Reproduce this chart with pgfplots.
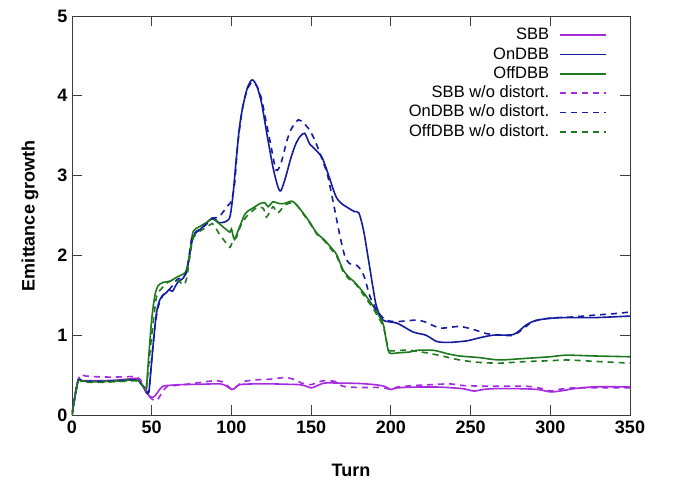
\documentclass[border=0pt]{standalone}
\usepackage{pgfplots}
\pgfplotsset{compat=1.18}
\usepackage{fontspec}
\setmainfont{Liberation Sans}

\definecolor{cSBB}{RGB}{165,42,224}
\definecolor{cOn}{RGB}{22,28,160}
\definecolor{cOff}{RGB}{30,120,30}
\definecolor{frame}{RGB}{60,60,60}

\begin{document}
\begin{tikzpicture}[x=1pt,y=1pt]
\path[use as bounding box] (-72,-67) rectangle (605,415);
\begin{axis}[
  at={(0,0)}, anchor=south west,
  scale only axis, width=558pt, height=399pt,
  xmin=0, xmax=350, ymin=0, ymax=5,
  xtick={0,50,...,350}, ytick={0,1,...,5},
  tick align=inside, major tick length=10pt,
  axis line style={frame, line width=0.9pt},
  every tick/.style={frame, line width=0.9pt},
  /pgf/number format/assume math mode=true,
  ticklabel style={font=\fontsize{18}{18}\selectfont\bfseries},
  xticklabel style={yshift=-2pt},
  yticklabel style={xshift=-1pt},
  xlabel={Turn}, ylabel={Emittance growth},
  every axis x label/.style={at={(axis description cs:0.5,-0.138)}, anchor=center},
  every axis y label/.style={at={(axis description cs:-0.0753,0.5)}, rotate=90, anchor=center},
  label style={font=\fontsize{18}{18}\selectfont\bfseries},
  legend plot pos=right,
  legend image code/.code={\draw[#1, line width=1.6pt] (0pt,0pt) -- (46pt,0pt);},
  legend style={at={(rel axis cs:0.964,0.976)}, anchor=north east,
    draw=none, fill=none, font=\fontsize{16.5}{16.5}\selectfont,
    row sep=4.3pt,
    cells={anchor=east},
    nodes={inner sep=0pt, text height=12pt, text depth=3pt},
    /tikz/every odd column/.style={column sep=10pt}},
  every axis plot/.append style={line width=1.6pt, smooth, tension=0.45},
]
% ---- with distortion ----
\addplot[cSBB] coordinates {
(0,0) (2,0.25) (4,0.45) (6,0.43) (10,0.43) (20,0.43) (30,0.44) (40,0.46) (42,0.44)
(45,0.34) (47,0.27) (50,0.22) (52,0.24) (55,0.32) (57,0.36) (60,0.37) (68,0.38)
(80,0.385) (93,0.39) (97,0.36) (100,0.32) (102,0.33) (105,0.38) (115,0.39) (125,0.39)
(135,0.385) (143,0.38) (147,0.36) (150,0.34) (153,0.36) (158,0.40) (168,0.40) (180,0.395)
(190,0.38) (196,0.36) (200,0.32) (204,0.34) (215,0.35) (230,0.35) (245,0.33) (252,0.30)
(258,0.32) (265,0.33) (280,0.33) (292,0.32) (300,0.29) (306,0.30) (315,0.33) (325,0.35)
(335,0.355) (350,0.35)};
\addlegendentry{SBB}
\addplot[cOn] coordinates {
(0,0) (2,0.25) (4,0.44) (6,0.43) (10,0.42) (20,0.42) (30,0.43) (40,0.44) (42,0.42)
(45,0.35) (48,0.28) (49,0.45) (51,0.9) (53,1.28) (55,1.44) (57,1.5) (59,1.53) (61,1.57)
(63,1.55) (65,1.62) (67,1.68) (70,1.72) (73,1.91) (75,2.15) (77,2.27) (80,2.32) (84,2.40)
(88,2.47) (90,2.45) (92,2.41) (96,2.42) (99,2.48) (101,2.76) (103,3.2) (105,3.6) (107,3.85)
(110,4.1) (113,4.20) (116,4.12) (119,3.9) (122,3.55) (126,3.11) (129,2.87) (131,2.81)
(134,2.98) (137,3.20) (140,3.38) (143,3.49) (146,3.53) (149,3.40) (153,3.32) (157,3.22)
(161,3.0) (164,2.82) (166,2.72) (169,2.65) (172,2.61) (177,2.55) (180,2.53) (183,2.30)
(186,1.94) (189,1.57) (191,1.36) (195,1.19) (204,1.15) (214,1.04) (222,1.0) (229,0.92)
(237,0.91) (248,0.93) (254,0.96) (264,1.00) (277,1.01) (285,1.13) (292,1.19) (306,1.22)
(327,1.22) (350,1.24)};
\addlegendentry{OnDBB}
\addplot[cOff] coordinates {
(0,0) (2,0.25) (4,0.44) (6,0.43) (10,0.42) (20,0.42) (30,0.43) (40,0.44) (42,0.43)
(45,0.35) (46.5,0.31) (48,0.7) (50,1.2) (52,1.5) (54,1.62) (57,1.66) (62,1.68) (65,1.72)
(67,1.74) (70,1.77) (72,1.82) (74,2.05) (76,2.30) (80,2.36) (85,2.42) (88,2.46) (91,2.42)
(94,2.37) (97,2.32) (99,2.29) (100,2.33) (101,2.25) (102,2.2) (104,2.3) (106,2.40) (108,2.5)
(110,2.55) (114,2.60) (118,2.65) (121,2.66) (123,2.61) (126,2.67) (130,2.65) (133,2.65)
(138,2.68) (141,2.63) (145,2.53) (149,2.42) (153.5,2.28) (158,2.20) (162,2.11) (166,2.01)
(170,1.82) (174,1.72) (177,1.67) (183,1.53) (189,1.36) (195,1.15) (197,0.95) (199,0.78)
(205,0.78) (212,0.79) (216,0.81) (227,0.81) (235,0.77) (243,0.74) (255,0.72) (268,0.69)
(285,0.71) (300,0.73) (310,0.75) (327,0.74) (350,0.73)};
\addlegendentry{OffDBB}
% ---- without distortion ----
\addplot[cSBB, dash pattern=on 6pt off 5pt] coordinates {
(0,0) (2,0.27) (5,0.50) (8,0.49) (15,0.48) (25,0.475) (35,0.48) (40,0.48) (43,0.44)
(46,0.33) (49,0.22) (52,0.18) (54,0.20) (57,0.30) (60,0.36) (65,0.37) (74,0.39) (85,0.42)
(91,0.43) (95,0.41) (99,0.34) (101,0.32) (104,0.37) (108,0.42) (115,0.44) (125,0.45)
(134,0.47) (140,0.44) (144,0.40) (150,0.38) (154,0.41) (158,0.43) (165,0.42) (170,0.36)
(180,0.345) (192,0.345) (198,0.33) (200,0.32) (204,0.35) (215,0.37) (225,0.38) (237,0.39)
(245,0.37) (260,0.36) (285,0.36) (295,0.33) (300,0.30) (305,0.32) (315,0.34) (335,0.34)
(350,0.34)};
\addlegendentry{SBB w/o distort.}
\addplot[cOn, dash pattern=on 6pt off 5pt] coordinates {
(0,0) (2,0.25) (4,0.44) (6,0.43) (10,0.42) (20,0.42) (30,0.43) (40,0.44) (42,0.42)
(45,0.35) (48,0.28) (50,0.7) (52,1.1) (54,1.35) (57,1.5) (60,1.55) (63,1.62) (66,1.7)
(69,1.72) (72,1.8) (75,2.2) (78,2.3) (82,2.35) (86,2.42) (89,2.47) (92,2.48) (95,2.55)
(98,2.63) (100,2.68) (102,2.9) (104,3.4) (107,3.85) (110,4.08) (113,4.17) (116,4.12)
(119,3.95) (122,3.65) (125,3.35) (128,3.07) (131,3.15) (135,3.45) (138,3.6) (142,3.70)
(145,3.66) (148,3.60) (151,3.5) (154,3.36) (157,3.2) (160,3.03) (162,2.85) (165,2.55)
(168,2.25) (171,2.0) (174,1.9) (179,1.87) (183,1.75) (187,1.48) (191,1.32) (196,1.2)
(202,1.17) (210,1.18) (216,1.19) (221,1.17) (231,1.09) (243,1.11) (252,1.07) (260,1.02)
(270,1.0) (277,1.0) (283,1.08) (289,1.17) (298,1.21) (315,1.23) (327,1.25) (340,1.27)
(350,1.29)};
\addlegendentry{OnDBB w/o distort.}
\addplot[cOff, dash pattern=on 6pt off 5pt] coordinates {
(0,0) (2,0.25) (4,0.43) (6,0.42) (10,0.41) (20,0.41) (30,0.42) (40,0.43) (42,0.42)
(45,0.35) (46.5,0.31) (48,0.6) (50,1.0) (53,1.48) (56,1.58) (60,1.66) (64,1.70) (67,1.68)
(70,1.63) (72,1.72) (74,2.0) (76,2.22) (80,2.30) (85,2.36) (88,2.40) (90,2.35) (92,2.28)
(95,2.20) (99,2.10) (101,2.2) (103,2.22) (106,2.38) (110,2.5) (116,2.60) (120,2.59)
(122,2.48) (126,2.61) (129,2.53) (133.5,2.63) (138,2.66) (141,2.63) (145,2.52) (149,2.41)
(153.5,2.27) (158,2.19) (162,2.09) (166,1.99) (170,1.80) (174,1.70) (178,1.64) (183,1.50)
(189,1.33) (195,1.12) (197,0.95) (199,0.81) (205,0.81) (212,0.81) (222,0.78) (232,0.74)
(243,0.69) (255,0.66) (268,0.65) (285,0.67) (300,0.68) (310,0.69) (330,0.67) (350,0.65)};
\addlegendentry{OffDBB w/o distort.}
\end{axis}
\end{tikzpicture}
\end{document}
